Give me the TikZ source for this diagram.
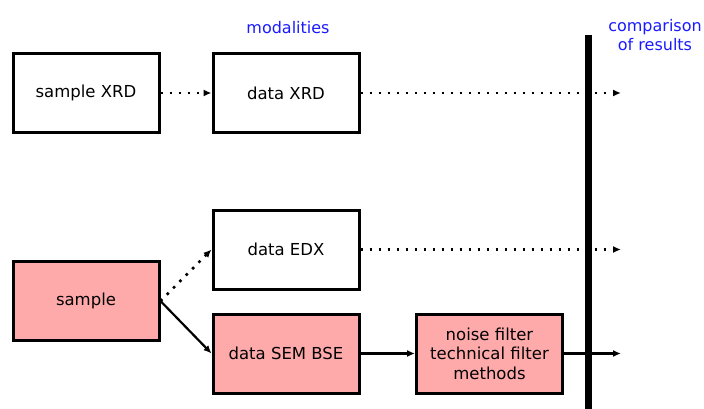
\documentclass[tikz,border=0pt]{standalone}
\usepackage{fontspec}
\setmainfont{DejaVu Sans}
\usepackage{xcolor}
\usetikzlibrary{positioning,arrows.meta}
\definecolor{boxpink}{HTML}{FFAAAA}
\definecolor{labelblue}{HTML}{1A1AFF}

\begin{document}
\begin{tikzpicture}[x=1pt, y=-1pt, >={Latex[length=8pt,width=7pt]}]
    \tikzset{
        block/.style={draw, line width=3pt, minimum width=146pt, minimum height=79pt, align=center, inner sep=2pt, font=\fontsize{16.5}{19.5}\selectfont},
        hot/.style={block, fill=boxpink},
        flow/.style={->, line width=2.2pt},
        dotflow/.style={->, line width=2.6pt, dash pattern=on 2.6pt off 6.4pt},
        caption/.style={text=labelblue, align=center, font=\fontsize{16}{19}\selectfont}
    }
    \useasboundingbox (0,0) rectangle (704,409);

    \node[block] (sxrd) at (86,93) {sample XRD};
    \node[block] (dxrd) at (286,93) {data XRD};
    \node[block] (dedx) at (286,249.5) {data EDX};
    \node[hot] (sample) at (86,301) {sample};
    \node[hot] (dsem) at (286,353.5) {data SEM BSE};
    \node[hot] (filter) at (489.5,353.5) {noise filter\\technical filter\\methods};

    \node[caption] (modal) at (288,28) {modalities};
    \node[caption] (compare) at (655,35) {comparison\\of results};

    % comparison bar
    \coordinate (bartop) at (588,35);
    \coordinate (barbot) at (588,409);
    \draw[line width=7pt] (bartop) -- (barbot);

    \coordinate (endxrd) at (621,93);
    \coordinate (endedx) at (621,249.5);
    \coordinate (endsem) at (621,353.5);

    \draw[dotflow] (sxrd) -- (dxrd);
    \draw[dotflow] (dxrd) -- (endxrd);
    \draw[dotflow] (sample.east) -- (dedx.west);
    \draw[dotflow] (dedx) -- (endedx);

    \draw[flow] (sample.east) -- (dsem.west);
    \draw[flow] (dsem) -- (filter);
    \draw[flow] (filter) -- (endsem);
\end{tikzpicture}
\end{document}
